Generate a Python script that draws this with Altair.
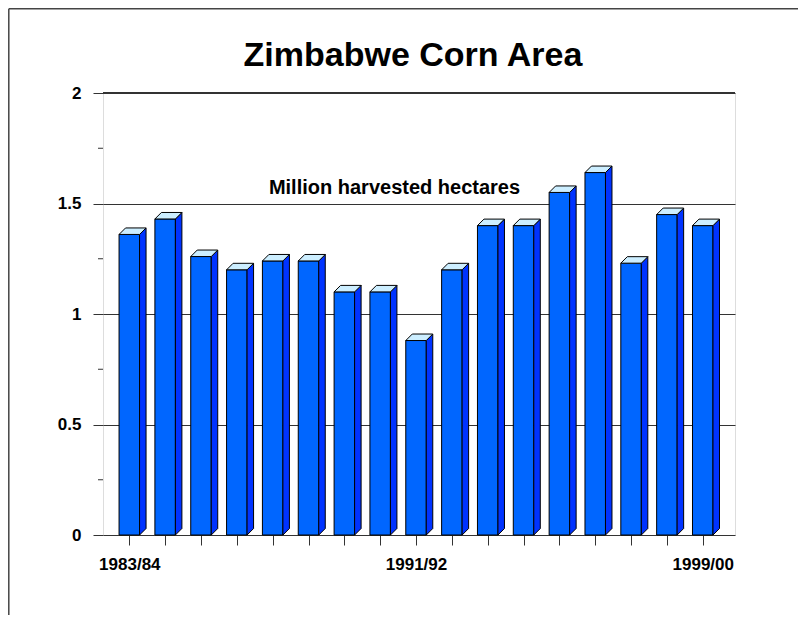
import altair as alt
import pandas as pd

seasons = ["1983/84", "1984/85", "1985/86", "1986/87", "1987/88", "1988/89",
           "1989/90", "1990/91", "1991/92", "1992/93", "1993/94", "1994/95",
           "1995/96", "1996/97", "1997/98", "1998/99", "1999/00"]
area = [1.36, 1.43, 1.26, 1.20, 1.24, 1.24, 1.10, 1.10, 0.88, 1.20,
        1.40, 1.40, 1.55, 1.64, 1.23, 1.45, 1.40]
shown_labels = ["1983/84", "1991/92", "1999/00"]
y_major = [0, 0.5, 1, 1.5, 2]
y_minor = [0.25, 0.75, 1.25, 1.75]
title_text = "Zimbabwe Corn Area"
unit_text = "Million harvested hectares"

W, H = 632, 442
x_dom = [-0.734, 16.90]
y_dom = [0, 2]
px_x = W / (x_dom[1] - x_dom[0])
px_y = H / (y_dom[1] - y_dom[0])
hw = 10.25 / px_x
dx = 6.5 / px_x
dy = 6.5 / px_y

front = pd.DataFrame({"i": list(range(len(area))), "season": seasons, "v": area})
front["x1"] = front["i"] - hw
front["x2"] = front["i"] + hw
front["y0"] = 0.0

side_rows, top_rows = [], []
for i, v in enumerate(area):
    side_rows.append({"b": i, "xs": i + hw, "ys": v, "ys2": 0.0})
    side_rows.append({"b": i, "xs": i + hw + dx, "ys": v + dy, "ys2": dy})
    top_rows.append({"b": i, "ty": v, "tx": i - hw, "tx2": i + hw})
    top_rows.append({"b": i, "ty": v + dy, "tx": i - hw + dx, "tx2": i + hw + dx})
side = pd.DataFrame(side_rows)
top = pd.DataFrame(top_rows)

xscale = alt.Scale(domain=x_dom, nice=False, zero=False)
yscale = alt.Scale(domain=y_dom, nice=False, zero=True)

label_map = {seasons.index(s): s for s in shown_labels}
label_expr = " : ".join([f"datum.value == {k} ? '{s}'" for k, s in label_map.items()]) + " : ''"

FONT = "Liberation Sans"

x_axis = alt.Axis(values=list(range(len(area))), labelExpr=label_expr, title=None,
                  tickSize=10, tickColor="#333", labelFont=FONT, labelFontWeight="bold",
                  labelFontSize=17, labelPadding=11, labelColor="black", domain=False,
                  grid=False, labelOverlap=False)
y_axis = alt.Axis(values=y_major, title=None, tickSize=10, tickColor="#333",
                  labelFont=FONT, labelFontWeight="bold", labelFontSize=17,
                  labelPadding=12, labelColor="black", domain=False, grid=True,
                  gridColor="#333", gridWidth=1,
                  labelExpr="format(datum.value, '')")

fronts = alt.Chart(front).mark_rect(color="#0066FF", stroke="black", strokeWidth=1).encode(
    x=alt.X("x1:Q", scale=xscale, axis=x_axis),
    x2="x2:Q",
    y=alt.Y("v:Q", scale=yscale, axis=y_axis),
    y2="y0:Q",
)

sides = alt.Chart(side).mark_area(color="#0033FF", stroke="black", strokeWidth=1,
                                  orient="vertical").encode(
    x=alt.X("xs:Q", scale=xscale, axis=x_axis),
    y=alt.Y("ys:Q", scale=yscale, axis=y_axis, stack=None),
    y2="ys2:Q",
    detail="b:N",
)

tops = alt.Chart(top).mark_area(color="#CCEEFF", stroke="black", strokeWidth=1,
                                orient="horizontal").encode(
    y=alt.Y("ty:Q", scale=yscale, axis=y_axis),
    x=alt.X("tx:Q", scale=xscale, axis=x_axis, stack=None),
    x2="tx2:Q",
    detail="b:N",
)

minor = alt.Chart(pd.DataFrame({"m": y_minor})).mark_rule(color="#333", strokeWidth=1).encode(
    y=alt.Y("m:Q", scale=yscale, axis=y_axis),
    x=alt.value(-5),
    x2=alt.value(0),
)

top_line = alt.Chart(pd.DataFrame({"m": [y_dom[1]]})).mark_rule(color="#333", strokeWidth=2).encode(
    y=alt.Y("m:Q", scale=yscale, axis=y_axis),
    x=alt.value(0),
    x2=alt.value(W),
)

one = pd.DataFrame({"t": [title_text], "u": [unit_text]})
title = alt.Chart(one).mark_text(font=FONT, fontWeight="bold", fontSize=34,
                                 baseline="alphabetic", align="center", color="black").encode(
    text="t:N", x=alt.value(310), y=alt.value(-27))
unit = alt.Chart(one).mark_text(font=FONT, fontWeight="bold", fontSize=20,
                                baseline="alphabetic", align="center", color="black").encode(
    text="u:N", x=alt.value(291.5), y=alt.value(101))

frame_top = alt.Chart(one).mark_rule(color="#444", strokeWidth=1.5).encode(
    x=alt.value(-94.2), x2=alt.value(700), y=alt.value(-84.2))
frame_left = alt.Chart(one).mark_rule(color="#444", strokeWidth=1.5).encode(
    x=alt.value(-94.2), y=alt.value(-84.2), y2=alt.value(530))

chart = alt.layer(fronts, sides, tops, minor, top_line, frame_top, frame_left, title, unit).properties(
    width=W, height=H,
    autosize="none",
    padding={"left": 95, "top": 85, "right": 63, "bottom": 80},
).configure_view(stroke="#888", strokeWidth=1).configure(background="white")

chart.save("out.html", embed_options={"renderer": "svg", "actions": False})
